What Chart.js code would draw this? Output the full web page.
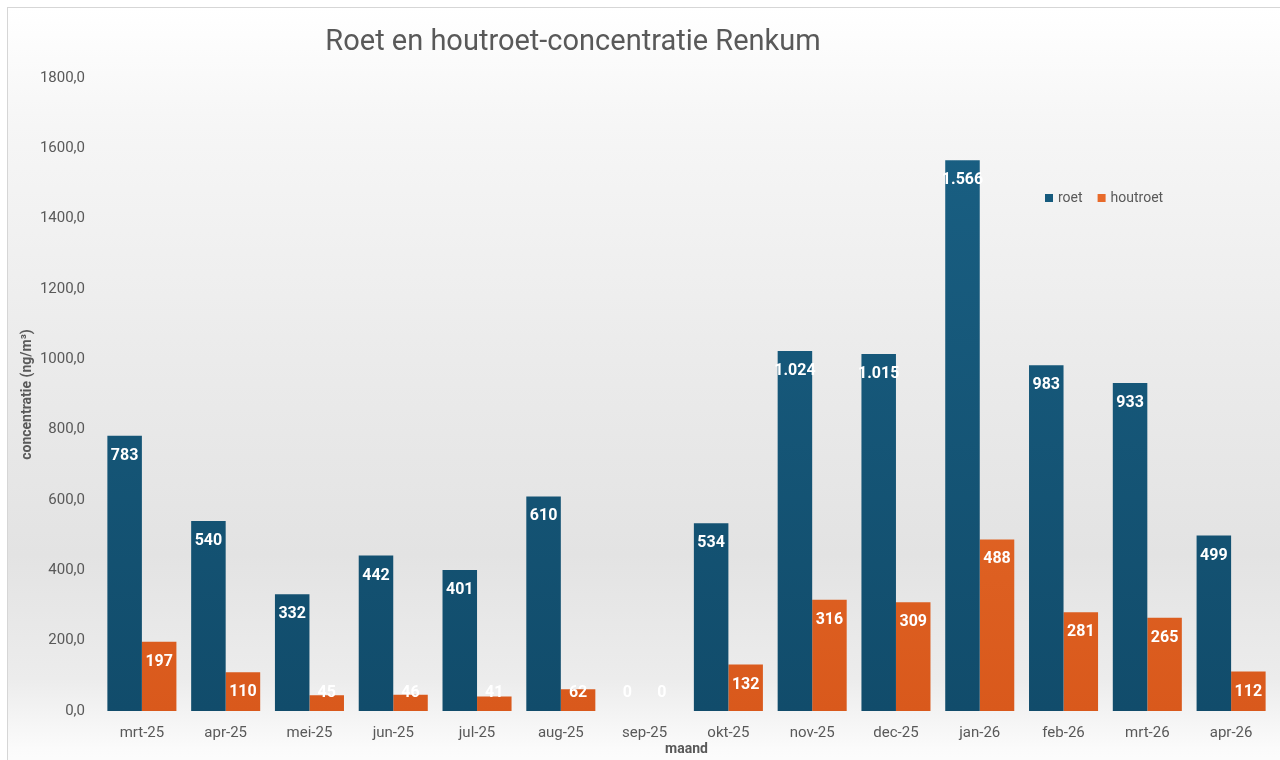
<!DOCTYPE html>
<html lang="nl">
<head>
<meta charset="UTF-8">
<script src="https://cdn.jsdelivr.net/npm/chart.js"></script>
<title>Roet en houtroet</title>
<style>
    body { margin: 0; width: 1280px; height: 760px; overflow: hidden; position: relative; background: #fff; }
    .frame {
        position: absolute; left: 7px; top: 7px; width: 1300px; height: 780px;
        border: 1px solid #d6d6d6;
        background: linear-gradient(to bottom, #ffffff 0%, #f6f6f6 15%, #ebebeb 45%, #e3e3e3 70%, #ececec 86%, #fbfbfb 95%, #ffffff 100%);
    }
    .chart-box { position: absolute; left: 0; top: 0; width: 1280px; height: 760px; }
</style>
</head>
<body>
<div class="frame"></div>
<div class="chart-box"><canvas id="roet"></canvas></div>

<script>
    const months = ['mrt-25', 'apr-25', 'mei-25', 'jun-25', 'jul-25', 'aug-25', 'sep-25',
                    'okt-25', 'nov-25', 'dec-25', 'jan-26', 'feb-26', 'mrt-26', 'apr-26'];
    const roet = [783, 540, 332, 442, 401, 610, 0, 534, 1024, 1015, 1566, 983, 933, 499];
    const houtroet = [197, 110, 45, 46, 41, 62, 0, 132, 316, 309, 488, 281, 265, 112];
    const yTicks = [0, 200, 400, 600, 800, 1000, 1200, 1400, 1600, 1800];

    const grey = '#595959';
    const font = 'Roboto, "Liberation Sans", sans-serif';

    function gradient(ctx, top, bottom) {
        const chart = ctx.chart;
        const area = chart.chartArea;
        if (!area) return top;
        const g = chart.ctx.createLinearGradient(0, area.top, 0, area.bottom);
        g.addColorStop(0, top);
        g.addColorStop(1, bottom);
        return g;
    }

    // dutch number format: 1.024
    function nl(v) {
        return String(v).replace(/\B(?=(\d{3})+(?!\d))/g, '.');
    }

    const extras = {
        id: 'extras',
        afterDatasetsDraw(chart) {
            const c = chart.ctx;
            c.save();
            // value labels
            c.font = 'bold 16px ' + font;
            c.fillStyle = '#ffffff';
            c.textAlign = 'center';
            c.textBaseline = 'middle';
            chart.data.datasets.forEach((ds, i) => {
                chart.getDatasetMeta(i).data.forEach((bar, j) => {
                    const y = Math.min(bar.y + 20, chart.chartArea.bottom - 18);
                    c.fillText(nl(ds.data[j]), bar.x, y);
                });
            });
            // title
            c.font = '29px ' + font;
            c.fillStyle = grey;
            c.fillText('Roet en houtroet-concentratie Renkum', 573, 43);
            // legend
            c.font = '14px ' + font;
            c.textAlign = 'left';
            let x = 1045;
            chart.data.datasets.forEach(ds => {
                c.fillStyle = ds.legendColor;
                c.fillRect(x, 194, 8, 8);
                c.fillStyle = grey;
                c.fillText(ds.label, x + 13, 198);
                x += 13 + c.measureText(ds.label).width + 15;
            });
            c.restore();
        }
    };

    new Chart(document.getElementById('roet'), {
        type: 'bar',
        data: {
            labels: months,
            datasets: [{
                label: 'roet',
                data: roet,
                legendColor: '#155a7d',
                backgroundColor: ctx => gradient(ctx, '#1a6185', '#114c6b')
            }, {
                label: 'houtroet',
                data: houtroet,
                legendColor: '#e86a2a',
                backgroundColor: ctx => gradient(ctx, '#ec7634', '#d9591c')
            }]
        },
        options: {
            responsive: true,
            maintainAspectRatio: false,
            animation: false,
            categoryPercentage: 0.824,
            barPercentage: 1.0,
            layout: { padding: { left: 8, right: 7, top: 78, bottom: 0 } },
            plugins: {
                legend: { display: false },
                tooltip: { enabled: false }
            },
            scales: {
                x: {
                    grid: { display: false, drawTicks: false },
                    border: { display: false },
                    ticks: { color: grey, font: { size: 15, family: font }, padding: 13, maxRotation: 0 },
                    title: { display: true, text: 'maand', color: grey, font: { size: 14, weight: 'bold', family: font }, padding: { top: 0, bottom: 2 } },
                    afterFit: s => { s.height = 49; }
                },
                y: {
                    min: 0,
                    max: 1800,
                    grid: { display: false, drawTicks: false },
                    border: { display: false },
                    afterBuildTicks: s => { s.ticks = yTicks.map(v => ({ value: v })); },
                    ticks: {
                        color: grey,
                        font: { size: 15, family: font },
                        padding: 15,
                        callback: v => v.toFixed(1).replace('.', ',')
                    },
                    title: { display: true, text: 'concentratie (ng/m³)', color: grey, font: { size: 14, weight: 'bold', family: font }, padding: { top: 11, bottom: 0 } },
                    afterFit: s => { s.width = 92; }
                }
            }
        },
        plugins: [extras]
    });
</script>
</body>
</html>
